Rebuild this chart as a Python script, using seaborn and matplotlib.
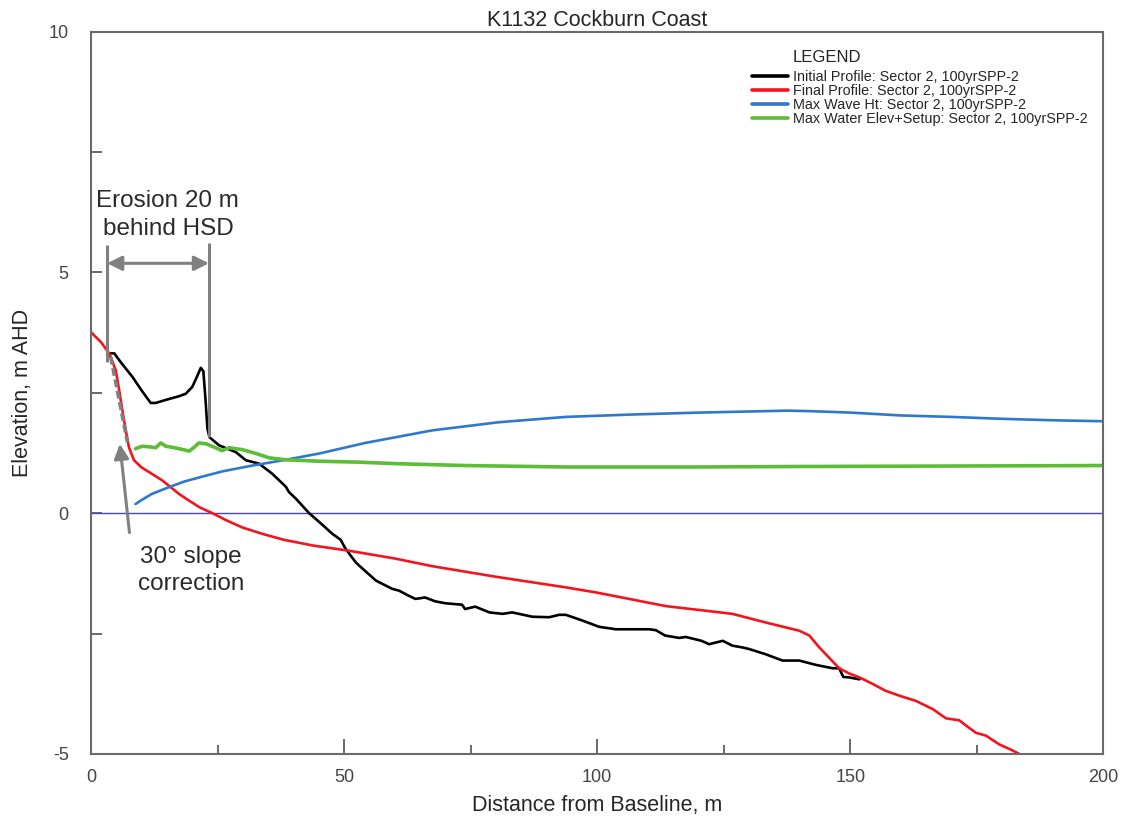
import matplotlib
matplotlib.use("Agg")
import matplotlib.pyplot as plt
from matplotlib.ticker import MultipleLocator, FixedLocator
import numpy as np
import pandas as pd
import seaborn as sns

# ---- profile data (distance m, elevation m AHD) ----
initial_x = [3.9, 4.6, 6.0, 8.2, 10.0, 11.8, 12.8, 15.0, 17.4, 18.7, 20.0, 21.0, 21.7,
             22.2, 22.6, 23.0, 23.4, 25.3, 28.6, 30.6, 33.2, 35.8, 36.5, 38.5, 39.1, 40.5,
             43.1, 45.5, 47.7, 49.3, 50.3, 52.3, 53.0, 56.3, 59.5, 60.9, 62.5, 64.1, 66.0,
             68.0, 70.0, 73.3, 73.9, 75.9, 78.7, 81.3, 83.2, 87.2, 90.5, 92.5, 93.8, 97.1,
             100.4, 103.7, 107.0, 110.3, 111.6, 113.4, 116.2, 117.5, 120.6, 122.1, 124.8,
             126.7, 128.8, 130.0, 133.3, 136.6, 139.9, 143.2, 146.5, 147.8, 148.6, 149.8, 151.8]
initial_y = [3.32, 3.32, 3.12, 2.83, 2.55, 2.29, 2.29, 2.36, 2.43, 2.48, 2.62, 2.85, 3.02,
             2.95, 2.40, 1.76, 1.58, 1.41, 1.27, 1.10, 1.03, 0.82, 0.75, 0.55, 0.44, 0.30,
             0.00, -0.22, -0.43, -0.55, -0.74, -1.02, -1.09, -1.40, -1.57, -1.61, -1.70, -1.78, -1.75,
             -1.83, -1.87, -1.90, -1.99, -1.94, -2.06, -2.09, -2.06, -2.15, -2.16, -2.11, -2.11, -2.23,
             -2.36, -2.41, -2.41, -2.41, -2.43, -2.54, -2.59, -2.57, -2.65, -2.72, -2.65,
             -2.75, -2.79, -2.82, -2.93, -3.06, -3.06, -3.15, -3.22, -3.22, -3.40, -3.41, -3.45]

final_x = [0.0, 2.0, 3.6, 4.9, 5.5, 6.2, 7.0, 7.5, 8.5, 10.0, 12.0, 14.1, 17.4, 19.4, 21.5,
           24.0, 27.0, 30.0, 33.9, 38.0, 43.8, 51.0, 60.0, 67.4, 80.0, 93.8, 100.0, 113.6,
           120.2, 126.7, 133.3, 139.9, 141.9, 143.9, 145.8, 147.8, 149.8, 151.8, 154.5, 157.0,
           160.0, 163.0, 166.3, 168.9, 171.5, 173.0, 174.8, 176.8, 179.4, 181.5, 183.4]
final_y = [3.76, 3.55, 3.32, 2.97, 2.60, 2.14, 1.65, 1.37, 1.10, 0.95, 0.82, 0.68, 0.40, 0.26, 0.12,
           0.00, -0.16, -0.30, -0.43, -0.55, -0.67, -0.78, -0.94, -1.10, -1.32, -1.54, -1.65, -1.93,
           -2.01, -2.09, -2.27, -2.44, -2.54, -2.79, -3.00, -3.22, -3.33, -3.41, -3.55, -3.69,
           -3.80, -3.90, -4.07, -4.26, -4.30, -4.42, -4.56, -4.62, -4.80, -4.90, -5.00]

wave_x = [8.8, 9.8, 12.0, 15.4, 18.5, 22.0, 26.0, 31.9, 38.5, 45.1, 54.2, 67.4, 80.6, 93.8,
          107.0, 120.2, 133.3, 137.5, 142.0, 150.0, 160.0, 170.0, 180.0, 190.0, 200.0]
wave_y = [0.19, 0.26, 0.40, 0.54, 0.66, 0.76, 0.87, 0.99, 1.11, 1.24, 1.46, 1.72, 1.89, 2.00,
          2.05, 2.09, 2.12, 2.13, 2.12, 2.09, 2.03, 2.00, 1.96, 1.93, 1.91]

water_x = [8.8, 10.1, 11.5, 12.8, 13.8, 14.8, 16.0, 17.4, 19.4, 20.4, 21.3, 22.8, 24.6, 25.9,
           27.3, 29.9, 32.6, 35.2, 38.5, 45.1, 53.0, 60.0, 73.9, 93.8, 120.0, 139.9, 170.0, 200.0]
water_y = [1.34, 1.39, 1.38, 1.36, 1.46, 1.39, 1.37, 1.34, 1.29, 1.37, 1.46, 1.44, 1.36, 1.30,
           1.36, 1.32, 1.24, 1.15, 1.11, 1.08, 1.06, 1.03, 0.99, 0.96, 0.96, 0.97, 0.98, 0.99]

labels = ["Initial Profile: Sector 2, 100yrSPP-2",
          "Final Profile: Sector 2, 100yrSPP-2",
          "Max Wave Ht: Sector 2, 100yrSPP-2",
          "Max Water Elev+Setup: Sector 2, 100yrSPP-2"]
colors = ["#000000", "#f5141e", "#2f78cc", "#5cbd36"]

# annotation geometry (data units)
hsd_left = [3.2, 5.56, 3.14]      # x, y top, y bottom
hsd_right = [23.3, 5.62, 1.58]
erosion_arrow_y = 5.19
slope_dash = [(3.9, 3.25), (7.2, 1.48)]
slope_arrow = [(7.6, -0.40), (5.7, 1.44)]

sns.set_style("white")
plt.rcParams["font.family"] = ["Liberation Sans", "DejaVu Sans"]
plt.rcParams["axes.unicode_minus"] = False

fig, ax = plt.subplots(figsize=(11.23, 8.19), dpi=100)
fig.subplots_adjust(left=0.081, right=0.9826, bottom=0.0794, top=0.9613)

series = [(initial_x, initial_y), (final_x, final_y), (wave_x, wave_y), (water_x, water_y)]
widths = [1.9, 1.9, 1.9, 2.6]
for (xs, ys), lab, col, lw in zip(series, labels, colors, widths):
    df = pd.DataFrame({"x": xs, "y": ys})
    sns.lineplot(data=df, x="x", y="y", sort=False, estimator=None, color=col,
                 lw=lw, label=lab, ax=ax)

ax.axhline(0, color="#4646c0", lw=1.0, zorder=1)

# erosion markers
gray = "#808080"
ax.plot([hsd_left[0]] * 2, hsd_left[1:], color=gray, lw=2.2, solid_capstyle="butt")
ax.plot([hsd_right[0]] * 2, hsd_right[1:], color=gray, lw=2.2, solid_capstyle="butt")
ax.annotate("", xy=(hsd_left[0], erosion_arrow_y), xytext=(hsd_right[0], erosion_arrow_y),
            arrowprops=dict(arrowstyle="<|-|>", color=gray, lw=2.2, mutation_scale=22,
                            shrinkA=0, shrinkB=0))
ax.plot([p[0] for p in slope_dash], [p[1] for p in slope_dash], color=gray, lw=2.6,
        dashes=(2.2, 1.0))
ax.annotate("", xy=slope_arrow[1], xytext=slope_arrow[0],
            arrowprops=dict(arrowstyle="-|>", color=gray, lw=2.2, mutation_scale=22,
                            shrinkA=0, shrinkB=0))
ax.text(15.2, 6.2, "Erosion 20 m\nbehind HSD", ha="center", va="center", fontsize=17.5,
        color="#2a2a2a", linespacing=1.35)
ax.text(19.8, -1.19, "30° slope\ncorrection", ha="center", va="center", fontsize=17.5,
        color="#2a2a2a", linespacing=1.35)

ax.set_xlim(0, 200)
ax.set_ylim(-5, 10)
ax.xaxis.set_major_locator(MultipleLocator(50))
ax.xaxis.set_minor_locator(MultipleLocator(25))
ax.yaxis.set_major_locator(FixedLocator([-5, 0, 5, 10]))
ax.yaxis.set_minor_locator(FixedLocator([-2.5, 2.5, 7.5]))
ax.tick_params(axis="both", which="both", direction="in", colors="#505050",
               labelcolor="#444444", labelsize=13, top=False, right=False,
               bottom=True, left=True)
ax.tick_params(axis="x", which="major", length=11, width=1.2, pad=11)
ax.tick_params(axis="x", which="minor", length=6.5, width=1.2)
ax.tick_params(axis="y", which="both", length=8, width=1.2, pad=16)

for s in ax.spines.values():
    s.set_color("#6a6a6a")
    s.set_linewidth(1.5)

ax.set_xlabel("Distance from Baseline, m", fontsize=15.5, labelpad=6)
ax.set_ylabel("Elevation, m AHD", fontsize=15.5, labelpad=11)
ax.set_title("K1132 Cockburn Coast", fontsize=15.5, pad=4)

leg = ax.legend(loc="upper left", bbox_to_anchor=(0.653, 0.947), frameon=False,
                fontsize=10.4, borderaxespad=0, borderpad=0, handlelength=2.5,
                handletextpad=0.3, labelspacing=0.0)
for h in leg.get_lines():
    h.set_linewidth(2.6)
ax.text(0.693, 0.9636, "LEGEND", transform=ax.transAxes, fontsize=12, va="center",
        ha="left", color="#222222")

fig.savefig("out.png", dpi=100)
